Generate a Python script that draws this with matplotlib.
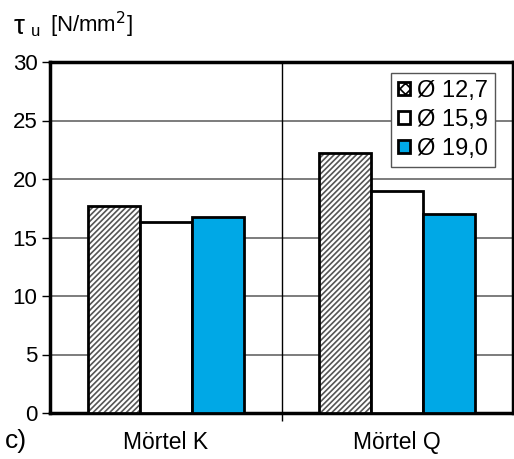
import numpy as np
import matplotlib
matplotlib.use("Agg")
import matplotlib.pyplot as plt
from matplotlib.patches import Rectangle

plt.rcParams['font.family'] = ['Liberation Sans', 'DejaVu Sans']
plt.rcParams['hatch.linewidth'] = 1.2

# shear strength per mortar and strand diameter
mortars = ["Mörtel K", "Mörtel Q"]
diameters = ["Ø 12,7", "Ø 15,9", "Ø 19,0"]
tau_u = {
    "Ø 12,7": [17.7, 22.2],
    "Ø 15,9": [16.3, 19.0],
    "Ø 19,0": [16.75, 17.05],
}
y_ticks = [0, 5, 10, 15, 20, 25, 30]

fig = plt.figure(figsize=(5.14, 4.59), dpi=100)
ax = fig.add_axes([50 / 514, (459 - 413) / 459, 463 / 514, 351 / 459])

x = np.arange(len(mortars))
w = 0.224
styles = [
    dict(facecolor="white", hatch="//////", hatch_ec="#555555"),
    dict(facecolor="white", hatch=None, hatch_ec=None),
    dict(facecolor="#00a8e6", hatch=None, hatch_ec=None),
]
for i, (d, st) in enumerate(zip(diameters, styles)):
    pos = x + (i - 1) * w
    if st["hatch"]:
        ax.bar(pos, tau_u[d], w, color=st["facecolor"], hatch=st["hatch"],
               edgecolor=st["hatch_ec"], linewidth=0, zorder=3)
    ax.bar(pos, tau_u[d], w, facecolor="none" if st["hatch"] else st["facecolor"],
           edgecolor="black", linewidth=2, zorder=4)

ax.set_xlim(-0.5, 1.5)
ax.set_ylim(0, 30)
ax.set_yticks(y_ticks)
ax.set_yticklabels([str(t) for t in y_ticks], fontsize=16)
ax.set_xticks(x)
ax.set_xticklabels(mortars, fontsize=16.5)
ax.tick_params(axis="x", length=0, pad=13)
ax.tick_params(axis="y", length=6, width=1, direction="out", pad=3)
ax.set_xticks([0.5], minor=True)
ax.tick_params(axis="x", which="minor", length=6, width=1, direction="out")

ax.yaxis.grid(True, color="#666666", linewidth=1.2, zorder=0)
ax.axvline(0.5, color="black", linewidth=1, zorder=1)
for side in ["left", "bottom", "top", "right"]:
    ax.spines[side].set_linewidth(2.5)
ax.set_axisbelow(True)

# legend with small square markers
handles = [
    Rectangle((0, 0), 1, 1, facecolor="white", edgecolor="black", hatch="xxx", linewidth=2),
    Rectangle((0, 0), 1, 1, facecolor="white", edgecolor="black", linewidth=2),
    Rectangle((0, 0), 1, 1, facecolor="#00a8e6", edgecolor="black", linewidth=2),
]
leg = ax.legend(handles, diameters, loc="upper right", bbox_to_anchor=(0.962, 0.97),
                fontsize=17, handlelength=0.5, handleheight=0.5, handletextpad=0.3,
                labelspacing=0.3, borderpad=0.3, fancybox=False, framealpha=1,
                borderaxespad=0)
leg.get_frame().set_edgecolor("#555555")
leg.get_frame().set_linewidth(1)
leg.set_zorder(5)

fig.text(14 / 514, 1 - 27 / 459, "τ", fontsize=20, va="center", ha="left")
fig.text(31 / 514, 1 - 31 / 459, "u", fontsize=12, va="center", ha="left")
fig.text(50 / 514, 1 - 25 / 459, "[N/mm$^2$]", fontsize=16, va="center", ha="left")
fig.text(5 / 514, 1 - 441 / 459, "c)", fontsize=19, va="center", ha="left")

fig.savefig("out.png", dpi=100)
